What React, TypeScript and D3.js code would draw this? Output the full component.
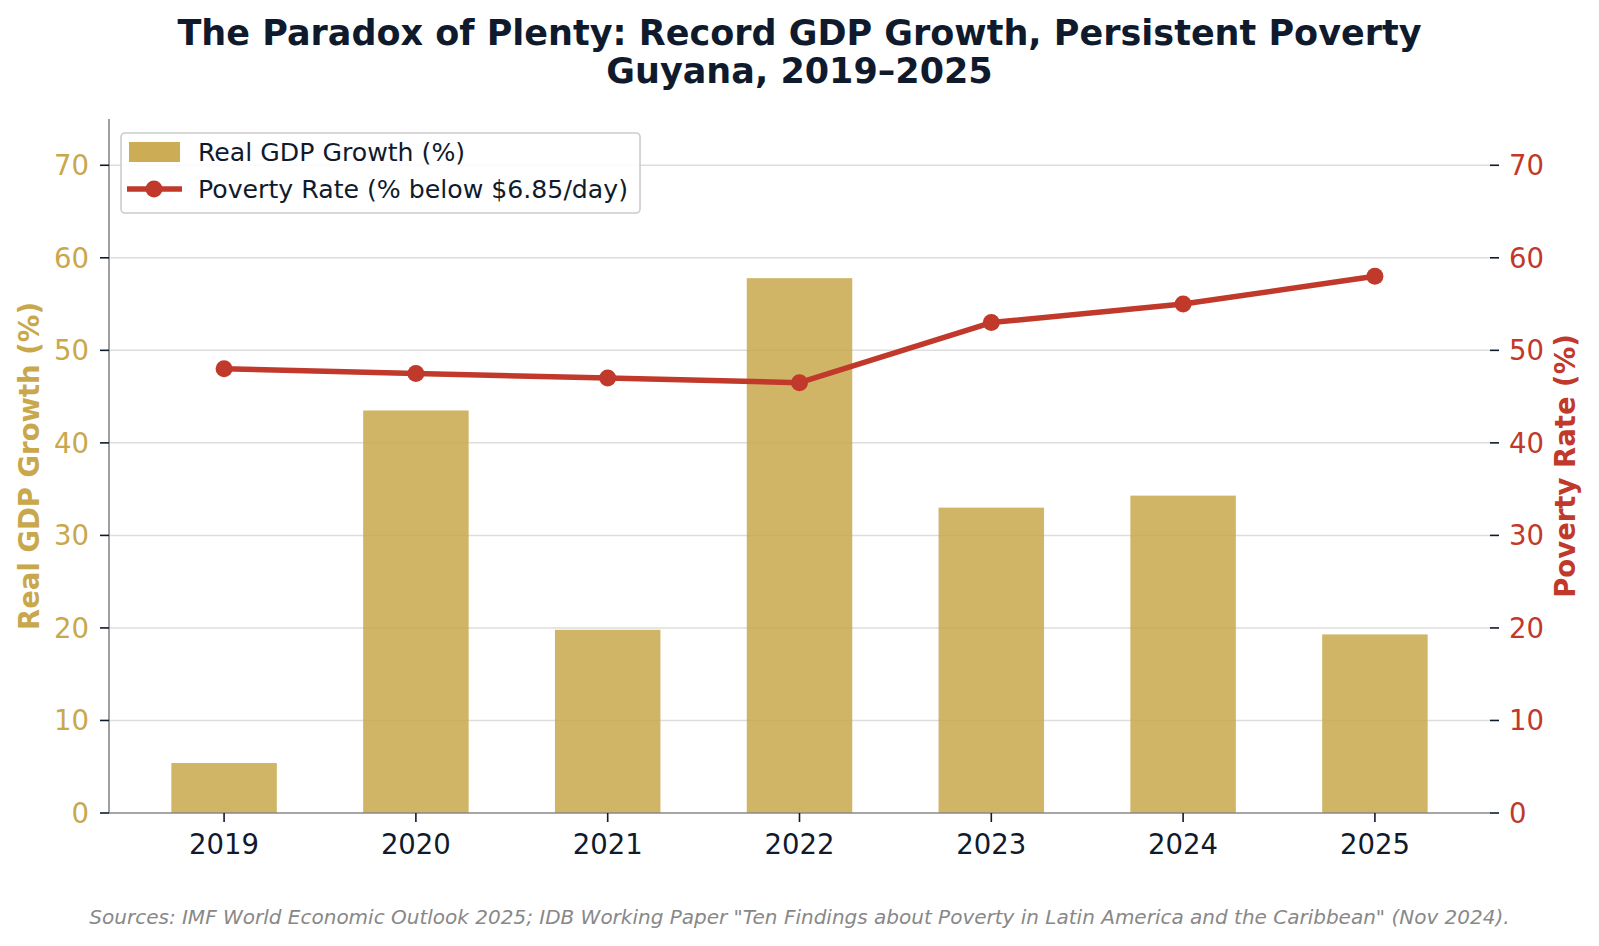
import React, { useEffect, useRef } from 'react';
import * as d3 from 'd3';

const years = ['2019', '2020', '2021', '2022', '2023', '2024', '2025'];
const gdpGrowth = [5.4, 43.5, 19.8, 57.8, 33.0, 34.3, 19.3];
const povertyRate = [48.0, 47.5, 47.0, 46.5, 53.0, 55.0, 58.0];
const yTicks = [0, 10, 20, 30, 40, 50, 60, 70];

const GOLD = '#C9A84C';
const RED = '#C0392B';
const NAVY = '#0F1B2D';
const FONT = '"DejaVu Sans", sans-serif';

const W = 1599;
const H = 946;
const M = { left: 109, right: 1490, top: 119, bottom: 813 };
const TICK_FS = 27.5;

const App = () => {
  const ref = useRef<SVGSVGElement>(null);

  useEffect(() => {
    draw();
  });

  const draw = () => {
    const svg = d3.select(ref.current);
    svg.selectAll('*').remove();

    // categories sit at 0..6 with 0.6 of a step free at each end
    const x = d3.scaleLinear().domain([-0.6, 6.6]).range([M.left, M.right]);
    const step = x(1) - x(0);
    const barW = step * 0.55;
    const yL = d3.scaleLinear().domain([0, 75]).range([M.bottom, M.top]);
    const yR = d3.scaleLinear().domain([0, 75]).range([M.bottom, M.top]);

    // grid
    svg.append('g')
      .selectAll('line')
      .data(yTicks.filter((t) => t > 0))
      .enter()
      .append('line')
      .attr('x1', M.left)
      .attr('x2', M.right)
      .attr('y1', (d) => yL(d))
      .attr('y2', (d) => yL(d))
      .attr('stroke', '#dddddd')
      .attr('stroke-width', 1.5);

    // bars
    svg.append('g')
      .selectAll('rect')
      .data(gdpGrowth)
      .enter()
      .append('rect')
      .attr('x', (d, i) => x(i) - barW / 2)
      .attr('width', barW)
      .attr('y', (d) => yL(d))
      .attr('height', (d) => yL(0) - yL(d))
      .attr('fill', GOLD)
      .attr('fill-opacity', 0.85);

    // spines
    svg.append('line')
      .attr('x1', M.left).attr('x2', M.left)
      .attr('y1', M.top).attr('y2', M.bottom)
      .attr('stroke', '#888888').attr('stroke-width', 1.6);
    svg.append('line')
      .attr('x1', M.left).attr('x2', M.right)
      .attr('y1', M.bottom).attr('y2', M.bottom)
      .attr('stroke', '#888888').attr('stroke-width', 1.6);

    // left axis ticks
    const left = svg.append('g');
    yTicks.forEach((t) => {
      left.append('line')
        .attr('x1', M.left - 9).attr('x2', M.left)
        .attr('y1', yL(t)).attr('y2', yL(t))
        .attr('stroke', NAVY).attr('stroke-width', 1.6);
      left.append('text')
        .attr('x', M.left - 20)
        .attr('y', yL(t))
        .attr('dy', '0.36em')
        .attr('text-anchor', 'end')
        .attr('font-size', TICK_FS)
        .attr('fill', GOLD)
        .text(t);
    });

    // right axis ticks
    const right = svg.append('g');
    yTicks.forEach((t) => {
      right.append('line')
        .attr('x1', M.right).attr('x2', M.right + 9)
        .attr('y1', yR(t)).attr('y2', yR(t))
        .attr('stroke', NAVY).attr('stroke-width', 1.6);
      right.append('text')
        .attr('x', M.right + 19)
        .attr('y', yR(t))
        .attr('dy', '0.36em')
        .attr('text-anchor', 'start')
        .attr('font-size', TICK_FS)
        .attr('fill', RED)
        .text(t);
    });

    // bottom axis
    const bottom = svg.append('g');
    years.forEach((yr, i) => {
      bottom.append('line')
        .attr('x1', x(i)).attr('x2', x(i))
        .attr('y1', M.bottom).attr('y2', M.bottom + 9)
        .attr('stroke', NAVY).attr('stroke-width', 1.6);
      bottom.append('text')
        .attr('x', x(i))
        .attr('y', 854)
        .attr('text-anchor', 'middle')
        .attr('font-size', TICK_FS)
        .attr('fill', NAVY)
        .text(yr);
    });

    // poverty line
    const line = d3.line<number>()
      .x((d, i) => x(i))
      .y((d) => yR(d));
    svg.append('path')
      .datum(povertyRate)
      .attr('d', line)
      .attr('fill', 'none')
      .attr('stroke', RED)
      .attr('stroke-width', 5.5)
      .attr('stroke-linejoin', 'round');
    svg.append('g')
      .selectAll('circle')
      .data(povertyRate)
      .enter()
      .append('circle')
      .attr('cx', (d, i) => x(i))
      .attr('cy', (d) => yR(d))
      .attr('r', 8.5)
      .attr('fill', RED);

    // axis labels
    const midY = (M.top + M.bottom) / 2;
    svg.append('text')
      .attr('transform', `translate(29,${midY}) rotate(-90)`)
      .attr('dy', '0.36em')
      .attr('text-anchor', 'middle')
      .attr('font-size', TICK_FS)
      .attr('font-weight', 'bold')
      .attr('fill', GOLD)
      .text('Real GDP Growth (%)');
    svg.append('text')
      .attr('transform', `translate(1565,${midY}) rotate(-90)`)
      .attr('dy', '0.36em')
      .attr('text-anchor', 'middle')
      .attr('font-size', TICK_FS)
      .attr('font-weight', 'bold')
      .attr('fill', RED)
      .text('Poverty Rate (%)');

    // legend
    const lg = svg.append('g');
    const box = lg.append('rect')
      .attr('x', 121).attr('y', 133)
      .attr('width', 506).attr('height', 80)
      .attr('rx', 4)
      .attr('fill', 'white').attr('fill-opacity', 0.85)
      .attr('stroke', '#cccccc').attr('stroke-width', 1.6);
    lg.append('rect')
      .attr('x', 129).attr('y', 142)
      .attr('width', 51).attr('height', 20)
      .attr('fill', GOLD).attr('fill-opacity', 0.95);
    lg.append('line')
      .attr('x1', 127).attr('x2', 182)
      .attr('y1', 189).attr('y2', 189)
      .attr('stroke', RED).attr('stroke-width', 5.5);
    lg.append('circle')
      .attr('cx', 154).attr('cy', 189).attr('r', 8.5)
      .attr('fill', RED);
    lg.append('text')
      .attr('x', 198).attr('y', 152)
      .attr('dy', '0.36em')
      .attr('font-size', 25.2)
      .attr('fill', NAVY)
      .text('Real GDP Growth (%)');
    const t2 = lg.append('text')
      .attr('x', 198).attr('y', 189)
      .attr('dy', '0.36em')
      .attr('font-size', 25.2)
      .attr('fill', NAVY)
      .text('Poverty Rate (% below $6.85/day)');
    const len = (t2.node() as SVGTextElement).getComputedTextLength();
    box.attr('width', 198 + len + 12 - 121);

    // title
    svg.append('text')
      .attr('x', W / 2).attr('y', 45)
      .attr('text-anchor', 'middle')
      .attr('font-size', 35)
      .attr('font-weight', 'bold')
      .attr('fill', NAVY)
      .text('The Paradox of Plenty: Record GDP Growth, Persistent Poverty');
    svg.append('text')
      .attr('x', W / 2).attr('y', 83)
      .attr('text-anchor', 'middle')
      .attr('font-size', 35)
      .attr('font-weight', 'bold')
      .attr('fill', NAVY)
      .text('Guyana, 2019–2025');

    // footnote
    svg.append('text')
      .attr('x', W / 2).attr('y', 924)
      .attr('text-anchor', 'middle')
      .attr('font-size', 20)
      .attr('font-style', 'italic')
      .attr('fill', '#888888')
      .text('Sources: IMF World Economic Outlook 2025; IDB Working Paper "Ten Findings about Poverty in Latin America and the Caribbean" (Nov 2024).');
  };

  return (
    <svg
      ref={ref}
      width={W}
      height={H}
      style={{ position: 'absolute', left: 0, top: 0, background: 'white', fontFamily: FONT }}
    />
  );
};

export default App;
